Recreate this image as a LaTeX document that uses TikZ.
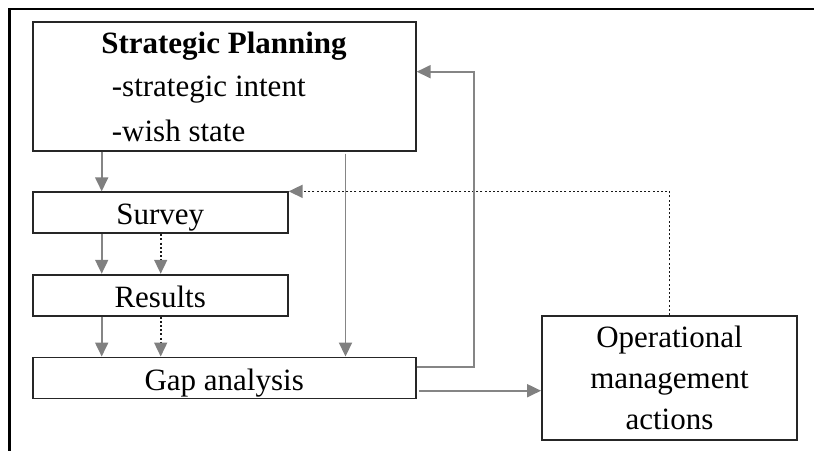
\documentclass[tikz,border=0pt]{standalone}
\usepackage{fontspec}
\setmainfont{Liberation Serif}
\usetikzlibrary{arrows.meta}
\begin{document}
\begin{tikzpicture}[x=1pt,y=-1pt,
  txt/.style={font=\fontsize{31}{41}\selectfont},
  box/.style={txt, draw=black!85, line width=1.9pt, inner sep=0pt},
  lbox/.style={box, text height=32.5pt, text depth=8.5pt},
  conn/.style={draw=black!48, line width=1.9pt, -{Triangle[length=14pt,width=13pt,color=black!50]}},
  dotc/.style={draw=black!90, line width=1.7pt, dash pattern=on 2pt off 2.2pt, -{Triangle[length=14pt,width=13pt,color=black!50]}},
]
\useasboundingbox (0,0) rectangle (814,450);
% outer frame
\draw[line width=2.8pt] (9.3,452) -- (9.3,9) -- (816,9);

% boxes
\node[box, minimum width=383pt, minimum height=129pt] (sp) at (224.2,86.2) {};
\node[txt, anchor=base, inner sep=0pt] (spt) at (224,53.3) {\bfseries Strategic Planning};
\node[txt, anchor=base west, inner sep=0pt] (sp1) at (111.7,96.7) {-strategic intent};
\node[txt, anchor=base west, inner sep=0pt] (sp2) at (111.7,141.2) {-wish state};

\node[lbox, minimum width=255pt] (survey) at (160.2,212.8) {Survey};
\node[lbox, minimum width=255pt] (results) at (160.2,295.2) {Results};
\node[lbox, minimum width=383pt] (gap) at (224.2,378) {Gap analysis};
\node[box, align=center, minimum width=255pt, minimum height=124pt] (op) at (669.5,378) {Operational\\management\\actions};

% helper coordinates
\coordinate (xa) at (101.7,0);
\coordinate (xb) at (160.7,0);
\coordinate (xc) at (345.5,0);
\coordinate (fbtop) at (474,71.7);
\coordinate (fbbot) at (474,366.7);
\coordinate (yop) at (0,390.7);
\path (sp.south -| xc) coordinate (spc);
\path (gap.east |- yop) coordinate (gops);

% connectors
\draw[conn] (sp.south -| xa) -- (survey.north -| xa);
\draw[conn] (survey.south -| xa) -- (results.north -| xa);
\draw[dotc] (survey.south -| xb) -- (results.north -| xb);
\draw[conn] (results.south -| xa) -- (gap.north -| xa);
\draw[dotc] (results.south -| xb) -- (gap.north -| xb);
\draw[conn] ([yshift=-2pt]spc) -- (gap.north -| xc);
\draw[dotc] (op.north) -- (op.north |- survey.north east) -- (survey.north east);
\draw[conn] (gap.east |- fbbot) -- (fbbot) -- (fbtop) -- (sp.east |- fbtop);
\draw[conn] ([xshift=2pt]gops) -- (op.west |- yop);
\end{tikzpicture}
\end{document}
